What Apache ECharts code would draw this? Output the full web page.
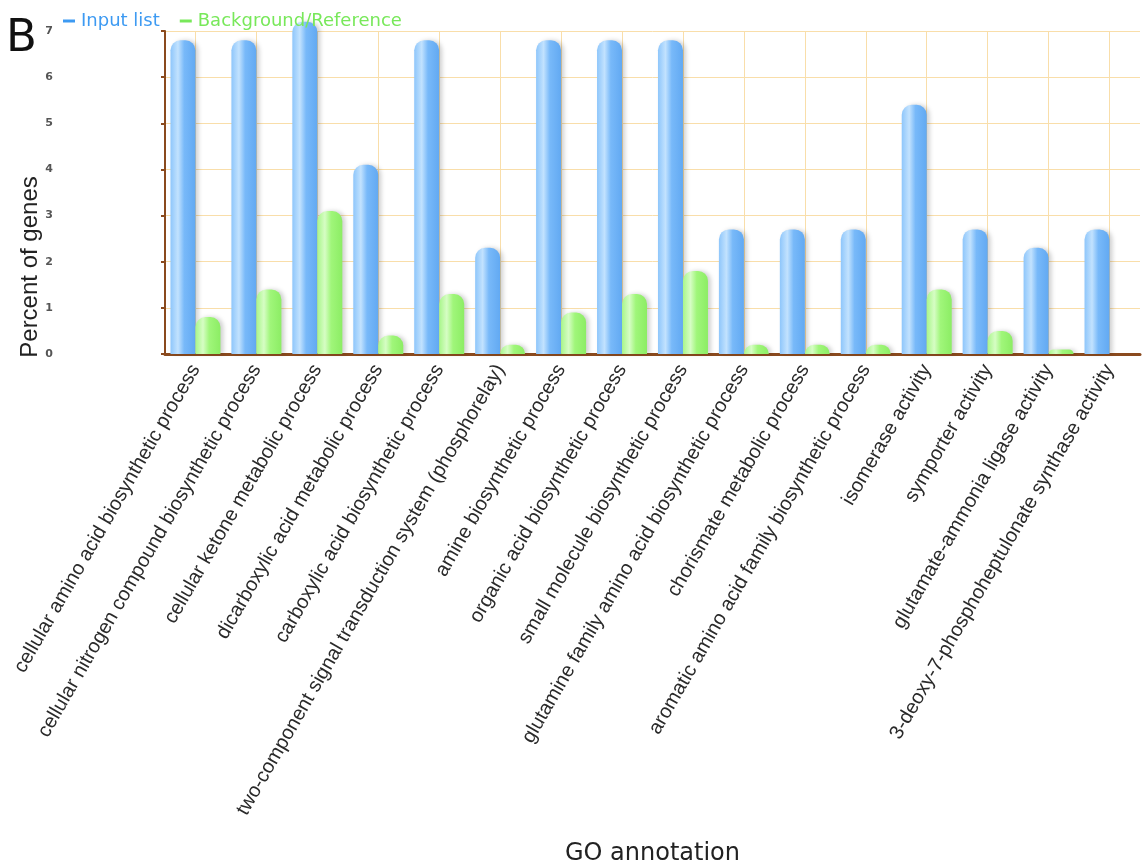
<!DOCTYPE html>
<html>
<head>
<meta charset="utf-8">
<script src="https://cdn.jsdelivr.net/npm/echarts@6/dist/echarts.min.js"></script>
<style>
html,body{margin:0;padding:0;background:#fff;}
#chart{width:1144px;height:867px;}
</style>
</head>
<body>
<div id="chart"></div>
<script>
var categories = [
  "cellular amino acid biosynthetic process",
  "cellular nitrogen compound biosynthetic process",
  "cellular ketone metabolic process",
  "dicarboxylic acid metabolic process",
  "carboxylic acid biosynthetic process",
  "two-component signal transduction system (phosphorelay)",
  "amine biosynthetic process",
  "organic acid biosynthetic process",
  "small molecule biosynthetic process",
  "glutamine family amino acid biosynthetic process",
  "chorismate metabolic process",
  "aromatic amino acid family biosynthetic process",
  "isomerase activity",
  "symporter activity",
  "glutamate-ammonia ligase activity",
  "3-deoxy-7-phosphoheptulonate synthase activity"
];
var inputList = [6.8, 6.8, 7.2, 4.1, 6.8, 2.3, 6.8, 6.8, 6.8, 2.7, 2.7, 2.7, 5.4, 2.7, 2.3, 2.7];
var background = [0.8, 1.4, 3.1, 0.4, 1.3, 0.2, 0.9, 1.3, 1.8, 0.2, 0.2, 0.2, 1.4, 0.5, 0.1, 0];
var yTicks = [0, 1, 2, 3, 4, 5, 6, 7];

var chart = echarts.init(document.getElementById('chart'));
var brown = '#8a4a1e';
var gridColor = '#f9deaa';

function grad(a, b, c, d) {
  return new echarts.graphic.LinearGradient(0, 0, 1, 0, [
    {offset: 0, color: a},
    {offset: 0.3, color: b},
    {offset: 0.55, color: c},
    {offset: 1, color: d}
  ]);
}

chart.setOption({
  backgroundColor: '#fff',
  animation: false,
  legend: {
    left: 58, top: 7,
    icon: 'rect', itemWidth: 12, itemHeight: 3, itemGap: 20,
    textStyle: {fontFamily: 'DejaVu Sans', fontSize: 18, padding: [0,0,0,1]},
    data: [
      {name: 'Input list', itemStyle: {color: '#3d9af2'}, textStyle: {color: '#3d9af2'}},
      {name: 'Background/Reference', itemStyle: {color: '#78e85a'}, textStyle: {color: '#78e85a'}}
    ]
  },
  graphic: [
    {type: 'text', left: 6, top: 17, style: {text: 'B', font: '45px "DejaVu Sans"', fill: '#111'}},
    {type: 'text', x: 30, y: 267, rotation: Math.PI / 2,
     style: {text: 'Percent of genes', font: '24px "Liberation Sans"', fill: '#222',
             align: 'center', verticalAlign: 'middle'}}
  ],
  grid: {left: 165, right: 4, top: 31, bottom: 511, containLabel: false},
  xAxis: {
    type: 'category',
    data: categories,
    name: 'GO annotation',
    nameLocation: 'middle',
    nameGap: 488,
    nameTextStyle: {fontFamily: 'DejaVu Sans', fontSize: 24, color: '#222'},
    axisLine: {lineStyle: {color: brown, width: 3}},
    axisTick: {alignWithLabel: true, length: 5, lineStyle: {color: brown, width: 2}},
    splitLine: {show: true, alignWithLabel: true, lineStyle: {color: gridColor, width: 1}},
    axisLabel: {
      interval: 0, rotate: 60, margin: 12,
      fontFamily: 'Liberation Sans', fontSize: 20, color: '#2a2a2a'
    }
  },
  yAxis: {
    type: 'value',
    min: 0, max: 7, interval: 1,
    axisLine: {show: true, lineStyle: {color: brown, width: 2}},
    axisTick: {show: true, length: 4, lineStyle: {color: brown, width: 2}},
    splitLine: {show: true, lineStyle: {color: gridColor, width: 1}},
    axisLabel: {
      margin: 112, fontFamily: 'DejaVu Sans', fontSize: 11, fontWeight: 'bold', color: '#555',
      formatter: function (v) { return yTicks.indexOf(v) >= 0 ? String(v) : ''; }
    }
  },
  series: [
    {
      name: 'Input list', type: 'bar', data: inputList,
      barWidth: 25, barGap: '0%', clip: false,
      itemStyle: {
        color: grad('#8ec6fb', '#c2e2fe', '#78b9f9', '#62a9f2'),
        borderRadius: [10, 10, 0, 0],
        shadowColor: 'rgba(0,0,0,0.18)', shadowBlur: 4, shadowOffsetX: 3, shadowOffsetY: 0
      }
    },
    {
      name: 'Background/Reference', type: 'bar', data: background,
      barWidth: 25, clip: false,
      itemStyle: {
        color: grad('#a8f68a', '#d6fdc4', '#a0f67a', '#8ced64'),
        borderRadius: [10, 10, 0, 0],
        shadowColor: 'rgba(0,0,0,0.18)', shadowBlur: 4, shadowOffsetX: 3, shadowOffsetY: 0
      }
    }
  ]
});
</script>
</body>
</html>
